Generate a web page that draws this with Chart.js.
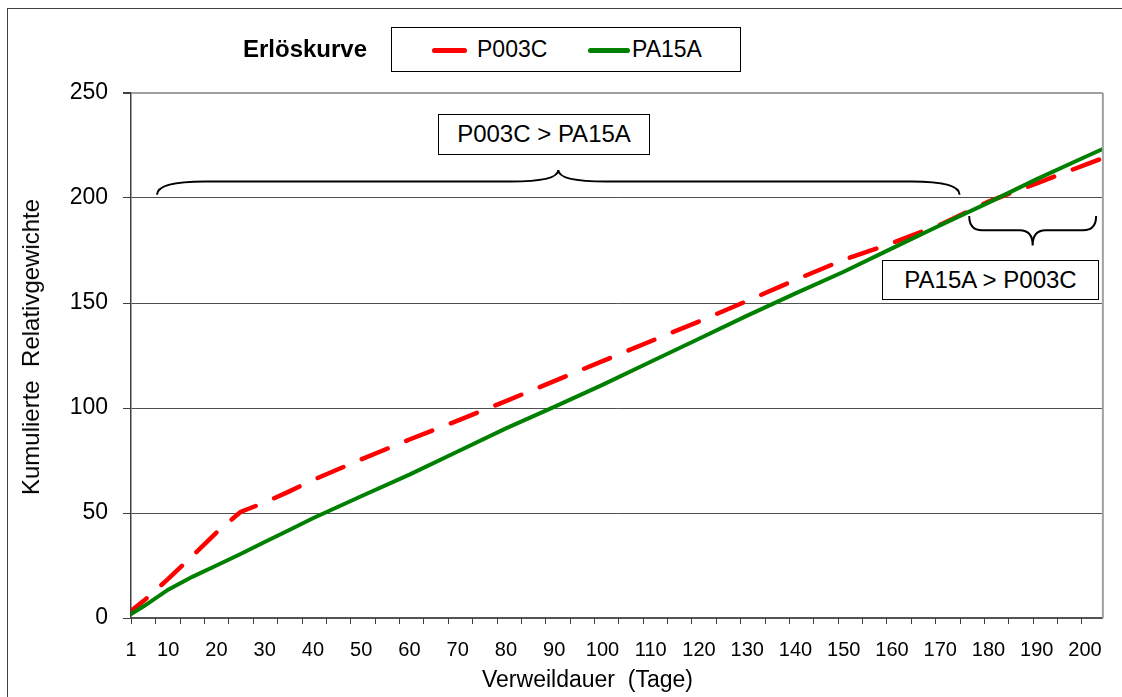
<!DOCTYPE html>
<html>
<head>
<meta charset="utf-8">
<script src="https://cdn.jsdelivr.net/npm/chart.js@4"></script>
<style>
  body { margin: 0; background: #fff; font-family: "Liberation Sans", Arial, sans-serif; }
  #wrap { position: relative; width: 1122px; height: 697px; overflow: hidden; }
  #frame { position: absolute; left: 7px; top: 8px; width: 1200px; height: 800px; border: 1.5px solid #404040; }
  canvas { position: absolute; left: 0; top: 0; }
  .txt { position: absolute; white-space: pre; color: #000; }
  .box { position: absolute; border: 1.5px solid #000; background: #fff; font-size: 24px; text-align: center; box-sizing: border-box; }
  .sample { position: absolute; height: 5px; border-radius: 2.5px; }
</style>
</head>
<body>
<div id="wrap">
  <div id="frame"></div>
  <canvas id="chart" width="1122" height="697"></canvas>

  <div class="txt" style="left:243px; top:35px; font-size:24px; font-weight:bold;">Erlöskurve</div>
  <div class="box" style="left:391px; top:27px; width:350px; height:45px;"></div>
  <div class="sample" style="left:432px; top:48px; width:35px; background:#ff0000;"></div>
  <div class="txt" style="left:477px; top:36px; font-size:23px;">P003C</div>
  <div class="sample" style="left:588px; top:48px; width:42px; background:#008000;"></div>
  <div class="txt" style="left:632px; top:36px; font-size:23px;">PA15A</div>

  <div class="box" style="left:438px; top:114px; width:212px; height:41px; line-height:38px;">P003C &gt; PA15A</div>
  <div class="box" style="left:882px; top:260px; width:217px; height:40px; line-height:37px;">PA15A &gt; P003C</div>

  <!-- axis titles -->
  <div class="txt" style="left:482px; top:668px; font-size:23px; line-height:23px;">Verweildauer  (Tage)</div>
  <div class="txt" style="left:30.8px; top:346.5px; font-size:24px; line-height:24px; transform: translate(-50%, -50%) rotate(-90deg);">Kumulierte  Relativgewichte</div>
</div>

<script>
// Verweildauer in Tagen
const DAYS = [1, 5, 10, 15, 20, 25, 30, 35, 40, 50, 60, 70, 80, 90, 100, 110, 120, 130, 140, 150, 160, 170, 180, 190, 200, 204];
// kumulierte Relativgewichte
const P003C = [1, 8.3, 18.6, 29.5, 40.7, 50.5, 55, 60.2, 65.7, 75.5, 85, 94, 103.3, 112.8, 122.3, 131.8, 141.2, 151, 161, 170.6, 178.5, 187.3, 198.3, 207, 215.8, 219.2];
const PA15A = [0, 5.7, 13.5, 19.6, 25, 30.5, 36.2, 41.8, 47.5, 58, 68.3, 79.3, 90.3, 100.5, 111, 122, 133, 144, 154.6, 164.9, 176, 187, 197.8, 209, 219.5, 223.7];

const X_TICKS = [1, 10, 20, 30, 40, 50, 60, 70, 80, 90, 100, 110, 120, 130, 140, 150, 160, 170, 180, 190, 200];
const X_MIN = 2.3;
const X_MAX = 203.7;
const MINOR_STEP = 5.05;

// brace annotations, in axis units
const BRACES = [
  { from: 7.7, to: 174, end: 201.5, line: 207.8, tip: 213.3, r: 48 },
  { from: 176, to: 202.3, end: 191.4, line: 184.6, tip: 177.4, r: 13 }
];

const FONT = "'Liberation Sans', Arial, sans-serif";
Chart.defaults.font.family = FONT;
Chart.defaults.color = "#000";

function points(ys) {
  return DAYS.map((d, i) => ({ x: d, y: ys[i] }));
}

function drawBrace(ctx, x0, x1, yEnd, yLine, yTip, r) {
  var xm = (x0 + x1) / 2;
  ctx.beginPath();
  ctx.moveTo(x0, yEnd);
  ctx.quadraticCurveTo(x0, yLine, x0 + r, yLine);
  ctx.lineTo(xm - r, yLine);
  ctx.quadraticCurveTo(xm, yLine, xm, yTip);
  ctx.quadraticCurveTo(xm, yLine, xm + r, yLine);
  ctx.lineTo(x1 - r, yLine);
  ctx.quadraticCurveTo(x1, yLine, x1, yEnd);
  ctx.stroke();
}

const extrasPlugin = {
  id: "extras",
  afterDraw(chart) {
    var ctx = chart.ctx;
    var area = chart.chartArea;
    var xs = chart.scales.x;
    var ys = chart.scales.y;
    ctx.save();

    // right border of plot area
    ctx.strokeStyle = "#a0a0a0";
    ctx.lineWidth = 2;
    ctx.beginPath();
    ctx.moveTo(area.right, area.top);
    ctx.lineTo(area.right, area.bottom);
    ctx.stroke();

    // tick marks on x axis
    ctx.strokeStyle = "#404040";
    ctx.lineWidth = 1;
    ctx.beginPath();
    for (var v = X_MIN; v <= X_MAX; v += MINOR_STEP) {
      var px = Math.round(xs.getPixelForValue(v)) + 0.5;
      ctx.moveTo(px, area.bottom);
      ctx.lineTo(px, area.bottom + 6);
    }
    ctx.stroke();

    // braces
    ctx.strokeStyle = "#000";
    ctx.lineWidth = 2;
    for (const b of BRACES) {
      drawBrace(ctx,
        xs.getPixelForValue(b.from), xs.getPixelForValue(b.to),
        ys.getPixelForValue(b.end), ys.getPixelForValue(b.line), ys.getPixelForValue(b.tip), b.r);
    }
    ctx.restore();
  }
};

new Chart("chart", {
  type: "line",
  data: {
    datasets: [
      {
        label: "PA15A",
        data: points(PA15A),
        borderColor: "#008000",
        borderWidth: 4,
        pointRadius: 0,
        tension: 0
      },
      {
        label: "P003C",
        data: points(P003C),
        borderColor: "#ff0000",
        borderWidth: 4.5,
        borderDash: [28, 20],
        borderCapStyle: "round",
        pointRadius: 0,
        tension: 0
      }
    ]
  },
  options: {
    responsive: false,
    animation: false,
    devicePixelRatio: 1,
    events: [],
    layout: { padding: { top: 93, right: 16, left: 0, bottom: 0 } },
    plugins: {
      legend: { display: false },
      tooltip: { enabled: false }
    },
    scales: {
      x: {
        type: "linear",
        min: X_MIN,
        max: X_MAX,
        afterFit: scale => { scale.height = 79; },
        afterBuildTicks: scale => {
          scale.ticks = X_TICKS.map(v => ({ value: Math.max(v, X_MIN) }));
        },
        grid: { drawOnChartArea: false, drawTicks: false },
        border: { color: "#555", width: 1.5 },
        ticks: {
          autoSkip: false,
          maxRotation: 0,
          padding: 20,
          font: { size: 20 },
          callback: (value, index) => X_TICKS[index]
        },
        title: { display: false }
      },
      y: {
        min: 0,
        max: 250,
        afterFit: scale => { scale.width = 131; },
        grid: {
          color: ctx => ctx.tick && ctx.tick.value === 250 ? "#a0a0a0" : "#505050",
          lineWidth: ctx => ctx.tick && ctx.tick.value === 250 ? 2 : 1,
          tickColor: "#404040",
          tickLength: 8
        },
        border: { color: "#404040", width: 1.5 },
        ticks: {
          stepSize: 50,
          padding: 15,
          font: { size: 23 }
        },
        title: { display: false }
      }
    }
  },
  plugins: [extrasPlugin]
});
</script>
</body>
</html>
